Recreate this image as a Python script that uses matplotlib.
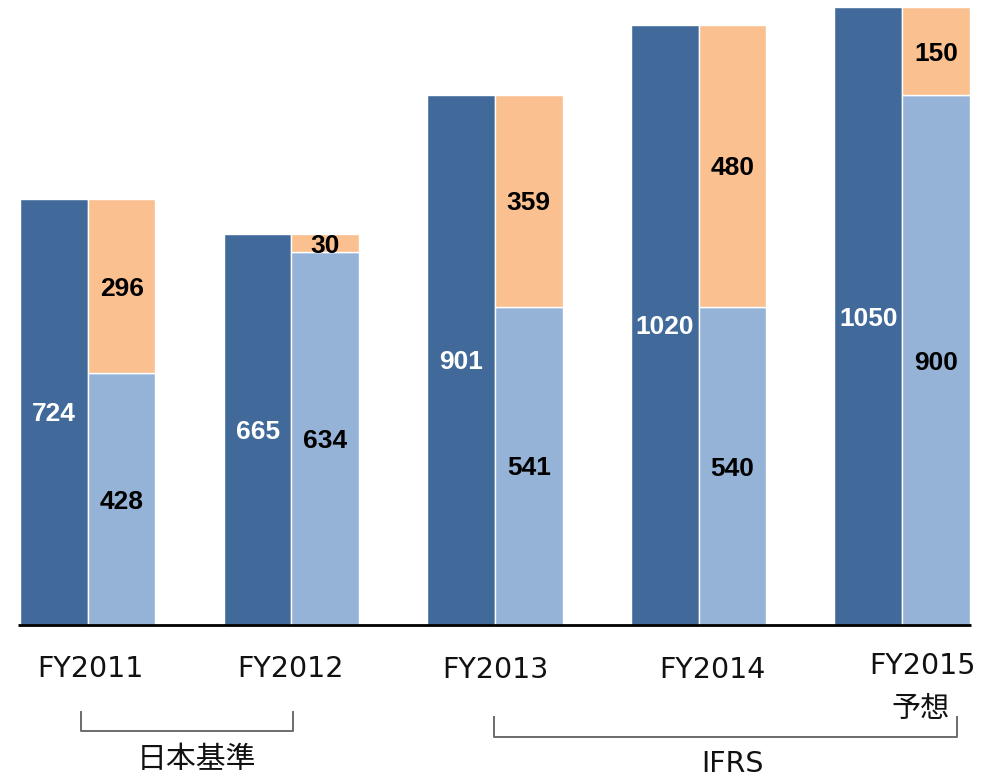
import matplotlib.pyplot as plt
import numpy as np

years = ['FY2011', 'FY2012', 'FY2013', 'FY2014', 'FY2015']
total = [724, 665, 901, 1020, 1050]
base = [428, 634, 541, 540, 900]
extra = [296, 30, 359, 480, 150]

dark = '#416a9b'
light = '#95b3d7'
orange = '#fac090'

plt.rcParams['font.family'] = ['Noto Sans CJK JP', 'DejaVu Sans']

fig = plt.figure(figsize=(9.92, 7.81), dpi=100)
ax = fig.add_axes([0, 0, 1, 1])
ax.set_xlim(-0.432, 4.442)
ax.set_ylim(-265, 1062)
ax.axis('off')

x = np.arange(len(years))
w = 0.332
b1 = ax.bar(x - w / 2, total, w, color=dark, edgecolor='white', linewidth=1)
b2 = ax.bar(x + w / 2, base, w, color=light, edgecolor='white', linewidth=1)
b3 = ax.bar(x + w / 2, extra, w, bottom=base, color=orange, edgecolor='white', linewidth=1)

# value labels in the middle of each segment
def label_bars(bars, values, color):
    for rect, v in zip(bars, values):
        cx = rect.get_x() + rect.get_width() / 2
        cy = rect.get_y() + rect.get_height() / 2
        ax.text(cx, cy, str(v), ha='center', va='center_baseline', color=color,
                family='Liberation Sans', weight='bold', fontsize=19)

label_bars(b1, total, 'white')
label_bars(b2, base, 'black')
label_bars(b3, extra, 'black')

# baseline
ax.hlines(0, x[0] - w - 0.01, x[-1] + w + 0.005, color='black', linewidth=2)

# category labels under the bars
W, H = 992, 781
label_pos = [(90, 669), (290, 669), (495, 670), (712, 670), (922, 666)]
for name, (px, py) in zip(years, label_pos):
    fig.text(px / W, 1 - py / H, name, ha='center', va='center',
             fontsize=20.5, family='DejaVu Sans', color='#111111')
fig.text(921 / W, 1 - 709 / H, '予想', ha='center', va='center', fontsize=21, color='#111111')

# accounting standard brackets
def bracket(x0, x1, y0, y1):
    fig.add_artist(plt.Line2D([x0 / W, x0 / W, x1 / W, x1 / W],
                              [1 - y0 / H, 1 - y1 / H, 1 - y1 / H, 1 - y0 / H],
                              color='#6b6b6b', linewidth=1.4))

bracket(81, 293, 712, 731)
bracket(494, 957, 717, 737)
fig.text(197 / W, 1 - 760 / H, '日本基準', ha='center', va='center', fontsize=21.5, color='#111111')
fig.text(732 / W, 1 - 764 / H, 'IFRS', ha='center', va='center', fontsize=20.5,
         family='DejaVu Sans', color='#111111')

fig.savefig('out.png', dpi=100)
